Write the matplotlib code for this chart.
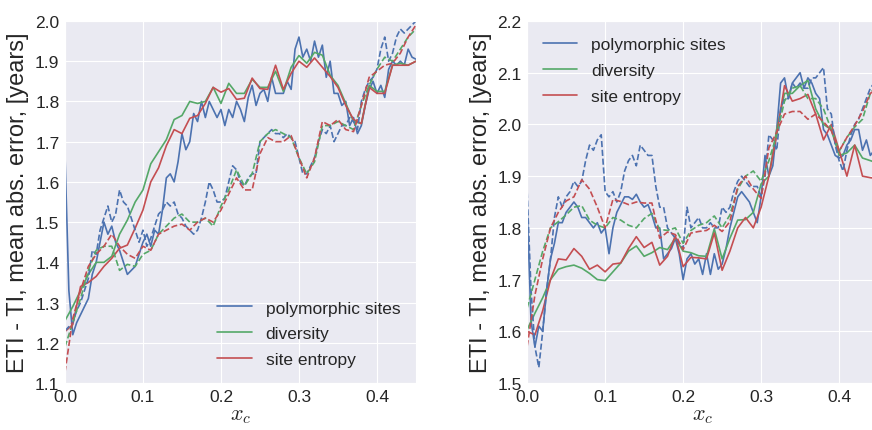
import matplotlib
matplotlib.use("Agg")
import matplotlib.pyplot as plt
import seaborn as sns
import numpy as np

# x grids: fine one for polymorphic sites, coarse one for diversity / site entropy
xc_fine = np.round(np.arange(0, 0.4501, 0.005), 3)
xc_coarse = np.round(np.arange(0, 0.4501, 0.01), 2)

labels = ["polymorphic sites", "diversity", "site entropy"]

# ---- left panel ----
left_poly = [1.67, 1.33, 1.22, 1.25, 1.27, 1.29, 1.31, 1.37, 1.40, 1.45,
             1.50, 1.47, 1.49, 1.45, 1.43, 1.40, 1.37, 1.38, 1.39, 1.42,
             1.45, 1.47, 1.44, 1.48, 1.47, 1.53, 1.61, 1.62, 1.60, 1.65,
             1.72, 1.68, 1.70, 1.77, 1.75, 1.80, 1.76, 1.80, 1.78, 1.76,
             1.78, 1.74, 1.78, 1.76, 1.80, 1.78, 1.75, 1.81, 1.84, 1.79,
             1.82, 1.83, 1.80, 1.86, 1.82, 1.82, 1.82, 1.85, 1.83, 1.93,
             1.96, 1.91, 1.93, 1.90, 1.95, 1.91, 1.94, 1.86, 1.90, 1.82,
             1.82, 1.79, 1.80, 1.74, 1.76, 1.72, 1.74, 1.79, 1.83, 1.85,
             1.82, 1.84, 1.81, 1.88, 1.90, 1.89, 1.90, 1.89, 1.93, 1.91,
             1.905]
left_poly_alt = [1.23, 1.24, 1.25, 1.28, 1.30, 1.33, 1.36, 1.43, 1.42, 1.48,
                 1.51, 1.54, 1.50, 1.52, 1.58, 1.55, 1.54, 1.51, 1.48, 1.45,
                 1.48, 1.44, 1.46, 1.49, 1.52, 1.53, 1.55, 1.54, 1.55, 1.52,
                 1.51, 1.49, 1.48, 1.47, 1.48, 1.51, 1.55, 1.60, 1.58, 1.55,
                 1.55, 1.56, 1.60, 1.64, 1.63, 1.60, 1.59, 1.61, 1.62, 1.62,
                 1.70, 1.71, 1.72, 1.73, 1.72, 1.72, 1.71, 1.72, 1.71, 1.70,
                 1.66, 1.62, 1.62, 1.64, 1.66, 1.70, 1.73, 1.72, 1.74, 1.70,
                 1.72, 1.74, 1.74, 1.76, 1.75, 1.73, 1.80, 1.83, 1.85, 1.86,
                 1.88, 1.93, 1.96, 1.90, 1.92, 1.96, 1.98, 1.97, 1.98, 1.99,
                 2.00]
left_div = [1.255, 1.29, 1.33, 1.37, 1.40, 1.40, 1.415, 1.47, 1.505, 1.55,
            1.58, 1.645, 1.675, 1.705, 1.755, 1.765, 1.80, 1.795, 1.80, 1.835,
            1.795, 1.845, 1.82, 1.82, 1.855, 1.835, 1.835, 1.875, 1.825, 1.885,
            1.914, 1.895, 1.922, 1.915, 1.865, 1.84, 1.795, 1.75, 1.745, 1.84,
            1.825, 1.825, 1.89, 1.895, 1.89, 1.90]
left_div_alt = [1.19, 1.25, 1.31, 1.38, 1.43, 1.44, 1.44, 1.38, 1.395, 1.39,
                1.42, 1.43, 1.47, 1.49, 1.51, 1.52, 1.50, 1.50, 1.51, 1.49,
                1.54, 1.58, 1.63, 1.59, 1.62, 1.70, 1.72, 1.73, 1.72, 1.71,
                1.66, 1.62, 1.65, 1.74, 1.74, 1.75, 1.74, 1.73, 1.79, 1.84,
                1.88, 1.91, 1.90, 1.93, 1.96, 1.98]
left_ent = [1.228, 1.245, 1.34, 1.35, 1.365, 1.39, 1.41, 1.435, 1.443, 1.485,
            1.53, 1.60, 1.635, 1.69, 1.73, 1.72, 1.758, 1.765, 1.795, 1.835,
            1.823, 1.832, 1.805, 1.808, 1.858, 1.832, 1.83, 1.89, 1.83, 1.87,
            1.90, 1.885, 1.908, 1.885, 1.862, 1.835, 1.79, 1.755, 1.745, 1.835,
            1.82, 1.82, 1.89, 1.89, 1.89, 1.90]
left_ent_alt = [1.127, 1.26, 1.33, 1.39, 1.42, 1.44, 1.47, 1.44, 1.42, 1.41,
                1.44, 1.43, 1.47, 1.48, 1.49, 1.495, 1.48, 1.50, 1.51, 1.50,
                1.53, 1.57, 1.61, 1.58, 1.58, 1.67, 1.71, 1.70, 1.70, 1.715,
                1.66, 1.61, 1.66, 1.75, 1.74, 1.755, 1.73, 1.725, 1.79, 1.86,
                1.875, 1.89, 1.895, 1.92, 1.96, 1.99]

# ---- right panel ----
right_poly = [1.84, 1.62, 1.57, 1.61, 1.60, 1.68, 1.74, 1.77, 1.81, 1.81,
              1.83, 1.84, 1.85, 1.84, 1.82, 1.82, 1.81, 1.80, 1.81, 1.79,
              1.80, 1.75, 1.80, 1.83, 1.845, 1.86, 1.86, 1.855, 1.865, 1.85,
              1.84, 1.845, 1.825, 1.80, 1.80, 1.74, 1.75, 1.76, 1.78, 1.75,
              1.70, 1.74, 1.75, 1.73, 1.74, 1.71, 1.75, 1.71, 1.75, 1.72,
              1.73, 1.76, 1.80, 1.83, 1.86, 1.87, 1.86, 1.85, 1.83, 1.81,
              1.86, 1.94, 1.90, 1.92, 1.99, 2.08, 2.09, 2.05, 2.08, 2.09,
              2.10, 2.07, 2.09, 2.08, 2.06, 2.05, 1.99, 1.98, 1.96, 1.94,
              1.935, 1.94, 1.96, 1.97, 1.99, 1.99, 1.95, 1.97, 1.94, 1.95,
              1.96]
right_poly_alt = [1.87, 1.68, 1.57, 1.53, 1.60, 1.68, 1.74, 1.82, 1.86, 1.84,
                  1.86, 1.87, 1.89, 1.88, 1.89, 1.93, 1.96, 1.95, 1.97, 1.98,
                  1.87, 1.86, 1.87, 1.85, 1.87, 1.91, 1.93, 1.94, 1.92, 1.96,
                  1.95, 1.94, 1.94, 1.88, 1.84, 1.84, 1.80, 1.79, 1.78, 1.77,
                  1.76, 1.84, 1.80, 1.81, 1.82, 1.80, 1.80, 1.81, 1.80, 1.80,
                  1.84, 1.83, 1.84, 1.87, 1.89, 1.90, 1.89, 1.88, 1.88, 1.88,
                  1.86, 1.90, 1.98, 1.97, 1.95, 2.03, 2.05, 2.05, 2.08, 2.07,
                  2.08, 2.07, 2.07, 2.09, 2.09, 2.10, 2.11, 2.03, 2.02, 1.96,
                  1.93, 1.91, 1.95, 1.98, 2.00, 2.01, 2.03, 2.05, 2.07, 2.08,
                  2.09]
right_div = [1.603, 1.635, 1.665, 1.70, 1.72, 1.725, 1.728, 1.722, 1.712, 1.70,
             1.698, 1.715, 1.732, 1.755, 1.765, 1.745, 1.752, 1.762, 1.758, 1.78,
             1.755, 1.752, 1.746, 1.745, 1.798, 1.74, 1.78, 1.815, 1.816, 1.83,
             1.885, 1.90, 1.99, 2.06, 2.06, 2.075, 2.085, 2.03, 2.00, 1.99,
             1.94, 1.945, 1.96, 1.935, 1.93, 1.925]
right_div_alt = [1.645, 1.70, 1.755, 1.80, 1.812, 1.825, 1.84, 1.843, 1.815, 1.805,
                 1.80, 1.82, 1.815, 1.805, 1.80, 1.818, 1.828, 1.797, 1.795, 1.80,
                 1.77, 1.795, 1.805, 1.81, 1.823, 1.80, 1.825, 1.875, 1.90, 1.91,
                 1.89, 1.93, 1.98, 2.045, 2.07, 2.075, 2.05, 2.05, 2.03, 1.99,
                 1.948, 1.975, 1.995, 2.01, 2.06, 2.08]
right_ent = [1.60, 1.593, 1.64, 1.70, 1.74, 1.738, 1.76, 1.745, 1.72, 1.728,
             1.715, 1.73, 1.732, 1.76, 1.783, 1.762, 1.772, 1.728, 1.745, 1.785,
             1.725, 1.743, 1.742, 1.74, 1.79, 1.718, 1.755, 1.80, 1.82, 1.80,
             1.84, 1.90, 1.98, 2.075, 2.045, 2.05, 2.058, 2.02, 1.97, 2.00,
             1.95, 1.90, 1.96, 1.90, 1.897, 1.895]
right_ent_alt = [1.571, 1.67, 1.74, 1.80, 1.83, 1.852, 1.86, 1.893, 1.875, 1.84,
                 1.80, 1.855, 1.851, 1.845, 1.85, 1.848, 1.848, 1.78, 1.792, 1.787,
                 1.758, 1.79, 1.793, 1.795, 1.805, 1.793, 1.812, 1.88, 1.90, 1.875,
                 1.857, 1.955, 1.985, 2.02, 2.025, 2.025, 2.01, 2.02, 2.005, 1.988,
                 1.948, 1.975, 1.998, 2.025, 2.06, 2.07]

sns.set_style("darkgrid")
plt.rcParams["font.family"] = ["Liberation Sans", "DejaVu Sans"]
plt.rcParams["mathtext.fontset"] = "cm"

colors = ["#4C72B0", "#55A868", "#C44E52"]
lw = 1.2

fig = plt.figure(figsize=(8.72, 4.31), dpi=100)
ax1 = fig.add_axes([0.0745, 0.109, 0.4025, 0.840])
ax2 = fig.add_axes([0.6045, 0.109, 0.4025, 0.840])


def draw_panel(ax, poly, poly_alt, div, div_alt, ent, ent_alt, ylim, yticks, loc, anchor):
    ax.plot(xc_fine, poly, color=colors[0], lw=lw, label=labels[0])
    ax.plot(xc_coarse, div, color=colors[1], lw=lw, label=labels[1])
    ax.plot(xc_coarse, ent, color=colors[2], lw=lw, label=labels[2])
    ax.plot(xc_fine, poly_alt, color=colors[0], lw=lw, ls="--")
    ax.plot(xc_coarse, div_alt, color=colors[1], lw=lw, ls="--")
    ax.plot(xc_coarse, ent_alt, color=colors[2], lw=lw, ls="--")
    ax.set_xlim(0, 0.45)
    ax.set_ylim(*ylim)
    ax.set_xticks([0.0, 0.1, 0.2, 0.3, 0.4])
    ax.set_yticks(yticks)
    ax.set_xticklabels(["0.0", "0.1", "0.2", "0.3", "0.4"])
    ax.set_yticklabels(["%.1f" % t for t in yticks])
    ax.tick_params(labelsize=12.5, length=2, width=0.8, color="#333333",
                   direction="out", pad=2, labelcolor="#262626")
    ax.set_xlabel("$x_c$", fontsize=16, labelpad=0)
    ax.set_ylabel("ETI - TI, mean abs. error, [years]", fontsize=17,
                  labelpad=4, color="#262626")
    ax.legend(loc=loc, bbox_to_anchor=anchor, frameon=False, fontsize=12.5,
              handlelength=2.0, handletextpad=0.8, labelspacing=0.62)


draw_panel(ax1, left_poly, left_poly_alt, left_div, left_div_alt, left_ent, left_ent_alt,
           (1.1, 2.0), np.round(np.arange(1.1, 2.01, 0.1), 1), "lower right", (1.0, 0.0))
draw_panel(ax2, right_poly, right_poly_alt, right_div, right_div_alt, right_ent, right_ent_alt,
           (1.5, 2.2), np.round(np.arange(1.5, 2.21, 0.1), 1), "upper left", (0.0, 1.0))

fig.savefig("out.png", dpi=100)
